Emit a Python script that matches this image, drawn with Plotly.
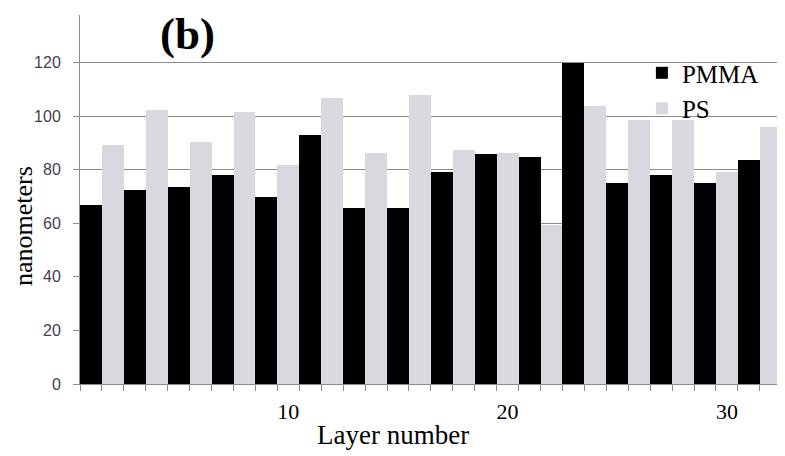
import plotly.graph_objects as go

pmma_layers = [1, 3, 5, 7, 9, 11, 13, 15, 17, 19, 21, 23, 25, 27, 29, 31]
pmma_values = [67, 72.3, 73.6, 78.1, 69.7, 93.0, 65.7, 65.6, 79.2, 85.8, 84.7, 120, 75.2, 77.9, 75.2, 83.5]

ps_layers = [2, 4, 6, 8, 10, 12, 14, 16, 18, 20, 22, 24, 26, 28, 30, 32]
ps_values = [89.1, 102.5, 90.3, 101.4, 81.9, 106.8, 86.4, 107.8, 87.4, 86.3, 59.5, 104.0, 98.5, 98.5, 79.3, 95.8]

x_tick_vals = [10, 20, 30]
x_tick_text = ["10", "20", "30"]
y_tick_vals = [0, 20, 40, 60, 80, 100, 120]

serif = "Liberation Serif, Times New Roman, serif"

fig = go.Figure()
fig.add_trace(go.Bar(x=pmma_layers, y=pmma_values, name="PMMA", width=1,
                     marker=dict(color="#000000", line=dict(width=0))))
fig.add_trace(go.Bar(x=ps_layers, y=ps_values, name="PS", width=1,
                     marker=dict(color="#DAD8DE", line=dict(width=0))))

# page body has an 8px margin: figure is 777x448 so it ends at the window edge
fig.update_layout(
    width=777, height=448,
    margin=dict(l=72, r=0, t=7, b=72, autoexpand=False),
    plot_bgcolor="white", paper_bgcolor="white",
    barmode="overlay", bargap=0,
    showlegend=True,
    legend=dict(x=0.797, y=0.905, xanchor="left", yanchor="top",
                font=dict(family=serif, size=25, color="black"),
                bgcolor="rgba(0,0,0,0)", itemwidth=30, tracegroupgap=0),
    annotations=[
        dict(text="<b>(b)</b>", x=(187 - 80) / 705, xref="paper",
             y=(384 - 34) / 369, yref="paper", xanchor="center", yanchor="middle",
             showarrow=False, font=dict(family=serif, size=45, color="black")),
        dict(text="Layer number", x=(393 - 80) / 705, xref="paper",
             y=-(435 - 384) / 369, yref="paper", xanchor="center", yanchor="middle",
             showarrow=False, font=dict(family=serif, size=27, color="black")),
        dict(text="nanometers", x=(23 - 80) / 705, xref="paper",
             y=(384 - 226) / 369, yref="paper", xanchor="center", yanchor="middle",
             textangle=-90, showarrow=False,
             font=dict(family=serif, size=26, color="black")),
    ],
)

fig.update_xaxes(
    range=[0.5, 32.65], showgrid=False, zeroline=False,
    showline=True, linecolor="#8C8C8C", linewidth=1,
    tickmode="array", tickvals=x_tick_vals, ticktext=x_tick_text,
    ticks="", ticklabelstandoff=8,
    tickfont=dict(family=serif, size=22, color="black"),
    minor=dict(ticks="outside", tick0=0.5, dtick=1, ticklen=6,
               tickcolor="#8C8C8C", tickwidth=1, showgrid=False),
)
fig.update_yaxes(
    range=[0, 137.8], showgrid=True, gridcolor="#8C8C8C", gridwidth=1,
    zeroline=False, showline=True, linecolor="#8C8C8C", linewidth=1,
    tickmode="array", tickvals=y_tick_vals,
    ticks="outside", ticklen=6, tickcolor="#8C8C8C",
    ticklabelstandoff=9,
    tickfont=dict(family="Liberation Sans, Arial, sans-serif", size=16, color="#45404F"),
)

fig.write_html("out.html")
